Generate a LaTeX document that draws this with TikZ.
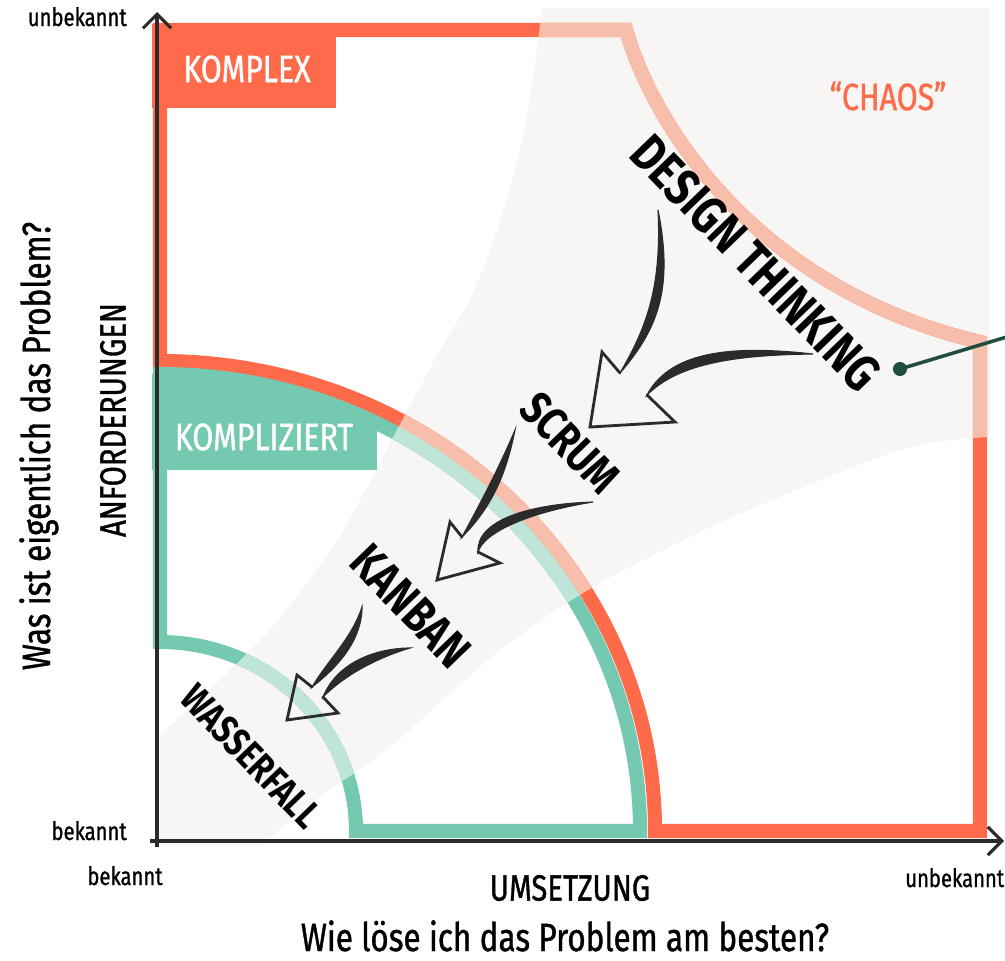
\documentclass[tikz,border=0pt]{standalone}
\usepackage{fontspec}
\setmainfont{Fira Sans}
\newfontfamily\handfont[FakeStretch=0.8]{Fira Sans}
\newfontfamily\penfont[FakeStretch=0.8, FakeBold=1]{Fira Sans}
\usepackage{xcolor}
\usetikzlibrary{arrows.meta, calc}

\definecolor{komplexOrange}{HTML}{FF6B4A}
\definecolor{komplexPale}{HTML}{F8BEAC}
\definecolor{kompliziertGreen}{HTML}{74C9B0}
\definecolor{kompliziertPale}{HTML}{BFE5D8}
\definecolor{chaosGrey}{HTML}{F7F6F4}
\definecolor{inkBlack}{HTML}{2B2B2B}
\definecolor{pinGreen}{HTML}{1F4E3E}

% outlines of the regions, in pixel units
\newcommand{\komplexoutline}{(160,361) -- (160,30) -- (626,30) .. controls (655,130) and (760,290) .. (980,342) -- (980,831) -- (655,831) arc[start angle=0, end angle=-90, x radius=495, y radius=470] -- cycle}
\newcommand{\kompliziertoutline}{(160,642) -- (160,374) arc[start angle=-90, end angle=0, x radius=480, y radius=457] -- (356,831) arc[start angle=0, end angle=-90, x radius=196, y radius=189] -- cycle}
\newcommand{\chaosregion}{(160,846) -- plot[smooth] coordinates {(160,735) (267,633) (340,535) (397,430) (440,350) (472,295) (503,213) (527,117) (542,8)} -- (990,8) -- plot[smooth] coordinates {(990,437) (900,450) (733,517) (600,583) (500,650) (390,747) (320,797) (260,846)} -- cycle}

\begin{document}
\begin{tikzpicture}[x=0.025cm, y=-0.025cm, >={Straight Barb[length=10pt, width=20pt]},
  band/.style={line width=10pt, line join=miter},
  axis/.style={draw=inkBlack, line width=2.2pt},
  ink/.style={draw=inkBlack, line width=2pt, line join=miter, line cap=round},
  brush/.style={fill=inkBlack, draw=inkBlack, line width=0.8pt, line cap=round},
  every node/.style={inner sep=0pt, font=\handfont},
  method/.style={font=\handfont\bfseries\fontsize{#1}{#1}\selectfont, text=black},
  tag/.style={font=\penfont\fontsize{27}{27}\selectfont, text=white},
  axislabel/.style={font=\penfont\fontsize{26}{26}\selectfont, text=black},
  question/.style={font=\penfont\fontsize{28}{28}\selectfont, text=black},
  endlabel/.style={font=\penfont\fontsize{18}{18}\selectfont, text=black}]
  \useasboundingbox (0,0) rectangle (1005,960);

  % highlighted fan
  \fill[chaosGrey] \chaosregion;

  % regions
  \draw[band, komplexOrange] \komplexoutline;
  \fill[komplexOrange] (152,24) rectangle (336,108);
  \begin{scope}
    \clip (160,831) ellipse [x radius=480, y radius=457];
    \fill[kompliziertGreen] (152,360) rectangle (377,470);
  \end{scope}
  \draw[band, kompliziertGreen] \kompliziertoutline;

  % faded where the fan lies over them
  \begin{scope}
    \clip \chaosregion;
    \draw[band, komplexPale] \komplexoutline;
    \draw[band, kompliziertPale] \kompliziertoutline;
  \end{scope}

  % axes
  \draw[axis, ->] (157,847) -- (157,12);
  \draw[axis, ->] (150,841) -- (1004,841);

  \node[endlabel, anchor=base east] (yTop) at (127,26) {unbekannt};
  \node[endlabel, anchor=base east] (yBottom) at (127,840) {bekannt};
  \node[endlabel, anchor=base] (xLeft) at (125,885) {bekannt};
  \node[endlabel, anchor=base west] (xRight) at (905,887) {unbekannt};

  \node[axislabel, rotate=90] (anforderungen) at (113,420) {ANFORDERUNGEN};
  \node[question, rotate=90, anchor=base] (problemY) at (50,446) {Was ist eigentlich das Problem?};
  \node[axislabel] (umsetzung) at (570,888) {UMSETZUNG};
  \node[question, anchor=base] (problemX) at (565,951) {Wie löse ich das Problem am besten?};

  % region tags
  \node[tag] (komplex) at (247,69) {KOMPLEX};
  \node[tag] (kompliziert) at (264,437) {KOMPLIZIERT};
  \node[tag, text=komplexOrange] (chaos) at (888,96) {“CHAOS”};

  % methods
  \node[method=37, rotate=-46] (design) at (756,263) {DESIGN THINKING};
  \node[method=33, rotate=-46] (scrum) at (570,443) {SCRUM};
  \node[method=35, rotate=-46] (kanban) at (411,606) {KANBAN};
  \node[method=28, rotate=-46] (wasserfall) at (251,756) {WASSERFALL};

  % design thinking -> scrum
  \fill[brush] (658,210) .. controls (674,290) and (657,330) .. (620,373) .. controls (645,330) and (662,290) .. cycle;
  \fill[brush] (647,395) .. controls (680,362) and (740,355) .. (813,354) .. controls (740,346) and (672,348) .. cycle;
  \draw[ink] (620,373) -- (602,352) -- (590,427) -- (675,422) -- (647,395);

  % scrum -> kanban
  \fill[brush] (515,430) .. controls (507,470) and (494,505) .. (462,537) .. controls (482,500) and (498,470) .. cycle;
  \fill[brush] (478,552) .. controls (484,532) and (530,512) .. (593,502) .. controls (530,504) and (476,520) .. cycle;
  \draw[ink] (462,537) -- (450,522) -- (437,580) -- (500,563) -- (478,552);

  % kanban -> wasserfall
  \fill[brush] (362,607) .. controls (362,640) and (338,667) .. (312,687) .. controls (328,660) and (352,638) .. cycle;
  \fill[brush] (323,697) .. controls (347,673) and (380,657) .. (410,648) .. controls (380,648) and (338,660) .. cycle;
  \draw[ink] (312,687) -- (297,675) -- (287,720) -- (338,713) -- (323,697);

  % pin to the side
  \node[circle, fill=pinGreen, minimum size=10pt] (pin) at (900,369) {};
  \coordinate (pinEnd) at (1010,336);
  \draw[pinGreen, line width=2.5pt] (pin.center) -- (pinEnd);
\end{tikzpicture}
\end{document}
